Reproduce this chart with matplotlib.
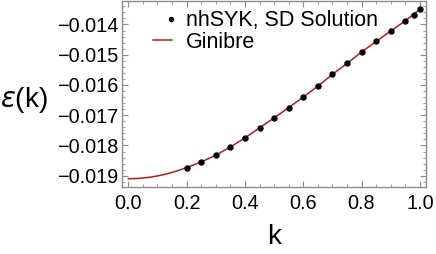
import numpy as np
import matplotlib
matplotlib.use('Agg')
import matplotlib.pyplot as plt
from matplotlib.ticker import MultipleLocator, FuncFormatter
from matplotlib.legend_handler import HandlerLine2D

plt.rcParams['font.family'] = ['Liberation Sans', 'DejaVu Sans']
plt.rcParams['mathtext.fontset'] = 'dejavusans'

# SD solution points
k_sd = [0.2, 0.25, 0.3, 0.35, 0.4, 0.45, 0.5, 0.55, 0.6, 0.65, 0.7,
        0.75, 0.8, 0.85, 0.9, 0.95, 0.98, 1.0]
eps_sd = [-0.01873, -0.018545, -0.018323, -0.01805, -0.01775, -0.01742,
          -0.01709, -0.01675, -0.01640, -0.01604, -0.01565, -0.01529,
          -0.01491, -0.01456, -0.01422, -0.01388, -0.01368, -0.01350]

# Ginibre curve
k_gin = [0.0, 0.025, 0.05, 0.075, 0.1, 0.125, 0.15, 0.175, 0.2, 0.25, 0.3,
         0.35, 0.4, 0.45, 0.5, 0.55, 0.6, 0.65, 0.7, 0.75, 0.8, 0.85, 0.9,
         0.95, 1.0]
eps_gin = [-0.01910, -0.019094, -0.019077, -0.019048, -0.019008, -0.018955,
           -0.018892, -0.018816, -0.01873, -0.018545, -0.018323, -0.01805,
           -0.01775, -0.01742, -0.01709, -0.01675, -0.01640, -0.01604,
           -0.01565, -0.01529, -0.01491, -0.01456, -0.01422, -0.01388,
           -0.01350]


class DotRight(HandlerLine2D):
    # single marker sits in the middle of xdata, so shift xdata to the right
    def get_xdata(self, legend, xdescent, ydescent, width, height, fontsize):
        xdata = np.array([-xdescent + 0.86 * width, -xdescent + width])
        return xdata, xdata


def fmt(nd):
    return FuncFormatter(lambda v, p: f'{v:.{nd}f}'.replace('-', '\u2212'))


fig = plt.figure(figsize=(4.36, 2.54), dpi=100)
ax = fig.add_axes([0.28, 0.263, 0.697, 0.735])

ax.plot(k_gin, eps_gin, color='#C0191C', lw=1.1, label='Ginibre')
ax.plot(k_sd, eps_sd, 'o', color='black', ms=3.6, ls='none',
        label='nhSYK, SD Solution')

ax.set_xlim(-0.0215, 1.021)
ax.set_ylim(-0.01938, -0.013208)

ax.xaxis.set_major_locator(MultipleLocator(0.2))
ax.xaxis.set_minor_locator(MultipleLocator(0.05))
ax.yaxis.set_major_locator(MultipleLocator(0.001))
ax.yaxis.set_minor_locator(MultipleLocator(0.0002))
ax.xaxis.set_major_formatter(fmt(1))
ax.yaxis.set_major_formatter(fmt(3))

frame = '#8c8c8c'
for s in ax.spines.values():
    s.set_color(frame)
    s.set_linewidth(1.0)
ax.tick_params(which='both', direction='in', top=True, right=True,
               color=frame, labelsize=14.3, labelcolor='black')
ax.tick_params(which='major', length=4, width=0.8)
ax.tick_params(which='minor', length=2, width=0.6)
ax.tick_params(axis='x', pad=5)
ax.tick_params(axis='y', pad=3)

ax.set_xlabel('k', fontsize=20, labelpad=8)
ax.set_ylabel(r'$\varepsilon$(k)', fontsize=20, rotation=0, va='center')
ax.yaxis.set_label_coords(-0.322, 0.465)

h, l = ax.get_legend_handles_labels()
ax.legend(h[::-1], l[::-1], loc='upper left', bbox_to_anchor=(0.351, 0.96),
          bbox_transform=fig.transFigure, frameon=False, fontsize=15.5,
          borderpad=0, borderaxespad=0, handlelength=0.9,
          handletextpad=0.64, labelspacing=0.04, numpoints=1,
          markerscale=0.8, handler_map={h[1]: DotRight()})

fig.savefig('out.png', dpi=100)
